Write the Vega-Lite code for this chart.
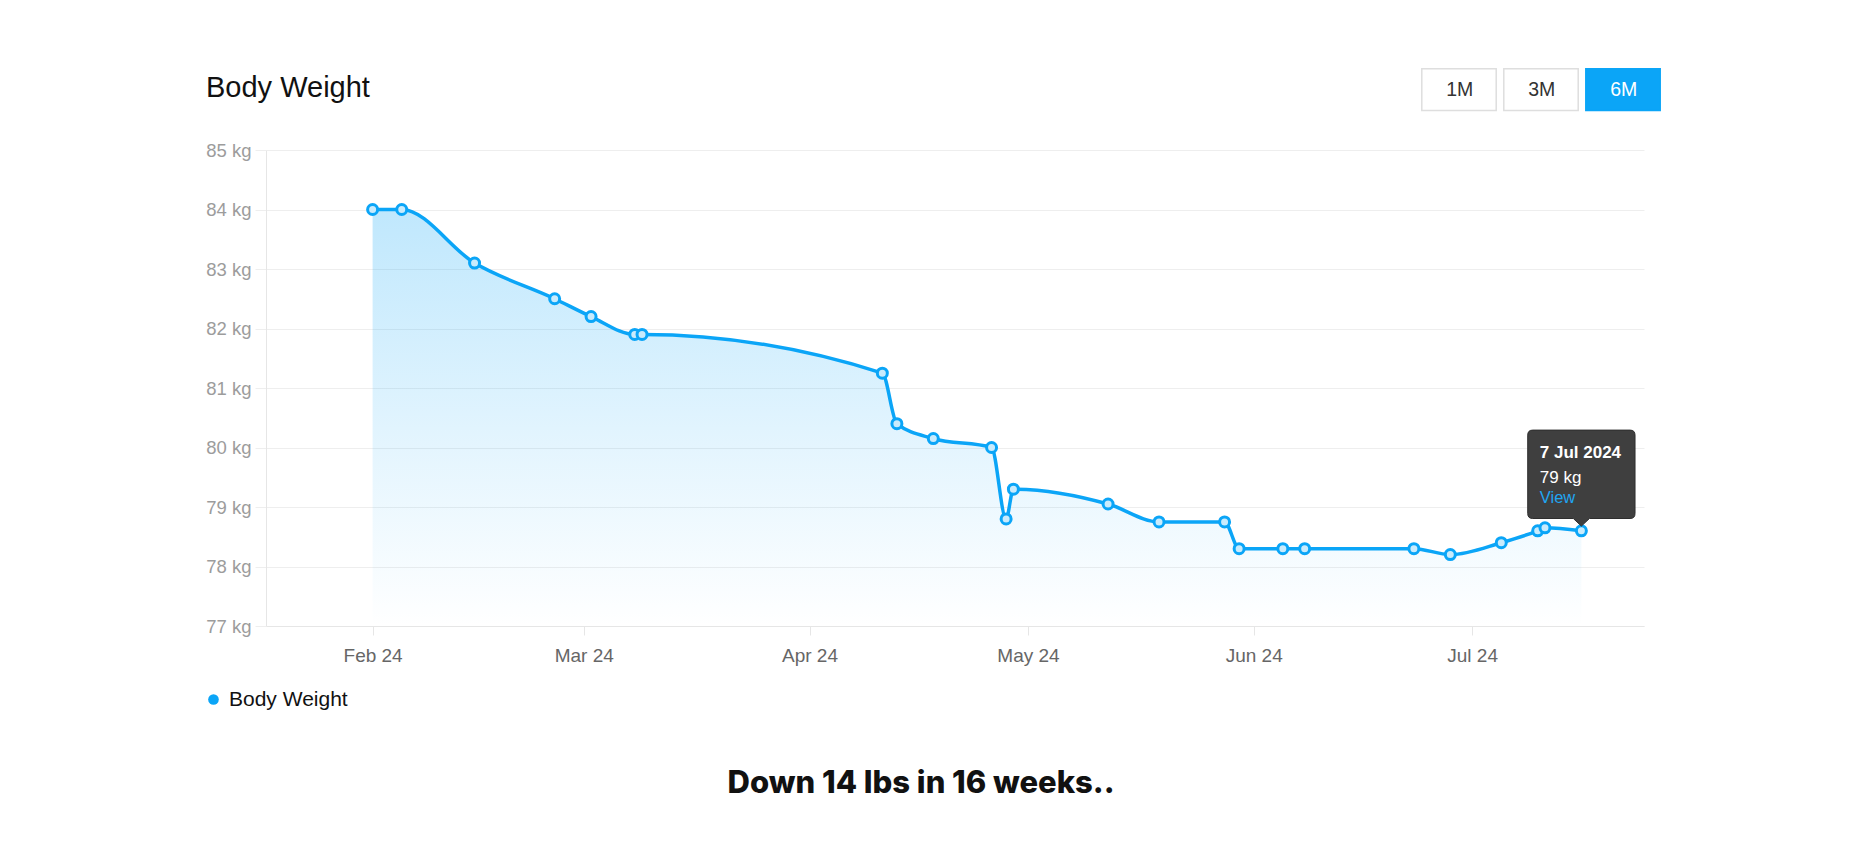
{
  "$schema": "https://vega.github.io/schema/vega-lite/v6.json",
  "width": 1378,
  "height": 476,
  "autosize": {"type": "none"},
  "padding": {"left": 266, "top": 150, "right": 211, "bottom": 222},
  "background": "#ffffff",
  "title": {
    "text": "Body Weight",
    "anchor": "start",
    "frame": "group",
    "dx": -60,
    "offset": -74,
    "baseline": "alphabetic",
    "font": "Liberation Sans",
    "fontSize": 29,
    "fontWeight": "normal",
    "color": "#111111"
  },
  "datasets": {
    "weights": [
      {"date": "2024-02-01", "weight": 84.0},
      {"date": "2024-02-05", "weight": 84.0},
      {"date": "2024-02-15", "weight": 83.1},
      {"date": "2024-02-26", "weight": 82.5},
      {"date": "2024-03-02", "weight": 82.2},
      {"date": "2024-03-08", "weight": 81.9},
      {"date": "2024-03-09", "weight": 81.9},
      {"date": "2024-04-11", "weight": 81.25},
      {"date": "2024-04-13", "weight": 80.4},
      {"date": "2024-04-18", "weight": 80.15},
      {"date": "2024-04-26", "weight": 80.0},
      {"date": "2024-04-28", "weight": 78.8},
      {"date": "2024-04-29", "weight": 79.3},
      {"date": "2024-05-12", "weight": 79.05},
      {"date": "2024-05-19", "weight": 78.75},
      {"date": "2024-05-28", "weight": 78.75},
      {"date": "2024-05-30", "weight": 78.3},
      {"date": "2024-06-05", "weight": 78.3},
      {"date": "2024-06-08", "weight": 78.3},
      {"date": "2024-06-23", "weight": 78.3},
      {"date": "2024-06-28", "weight": 78.2},
      {"date": "2024-07-05", "weight": 78.4},
      {"date": "2024-07-10", "weight": 78.6},
      {"date": "2024-07-11", "weight": 78.65},
      {"date": "2024-07-16", "weight": 78.6}
    ],
    "tip": [
      {"date": "2024-07-16", "weight": 78.6, "heading": "7 Jul 2024", "reading": "79 kg", "link": "View"}
    ],
    "ranges": [
      {"range": "1M"},
      {"range": "3M"},
      {"range": "6M"}
    ],
    "series": [
      {"series": "Body Weight"}
    ]
  },
  "layer": [
    {
      "data": {"name": "weights"},
      "mark": {
        "type": "area",
        "interpolate": "monotone",
        "color": {
          "gradient": "linear",
          "x1": 0, "y1": 0, "x2": 0, "y2": 1,
          "stops": [
            {"offset": 0, "color": "rgba(11,165,247,0.26)"},
            {"offset": 1, "color": "rgba(11,165,247,0.0)"}
          ]
        }
      },
      "encoding": {
        "x": {
          "field": "date",
          "type": "temporal",
          "scale": {
            "type": "utc",
            "domain": [
              {"year": 2024, "month": 1, "date": 17, "hours": 8, "minutes": 38, "utc": true},
              {"year": 2024, "month": 7, "date": 24, "hours": 14, "minutes": 24, "utc": true}
            ]
          },
          "axis": {
            "labelExpr": "utcFormat(datum.value, '%b %y')",
            "tickCount": {"interval": "month", "step": 1},
            "grid": false,
            "domain": true,
            "domainColor": "#e6e6e6",
            "domainWidth": 1,
            "ticks": true,
            "tickColor": "#e6e6e6",
            "tickSize": 9,
            "labelPadding": 11,
            "labelFont": "Liberation Sans",
            "labelFontSize": 19,
            "labelColor": "#666666",
            "labelFlush": false,
            "labelOverlap": false,
            "title": "Down 14 lbs in 16 weeks..",
            "titleFont": "Inter",
            "titleFontWeight": 800,
            "titleFontSize": 31,
            "titleColor": "#111111",
            "titleAlign": "center",
            "titleBaseline": "alphabetic",
            "titleX": 654.6,
            "titleY": 166.7
          }
        },
        "y": {
          "field": "weight",
          "type": "quantitative",
          "scale": {"domain": [77, 85], "nice": false, "zero": false},
          "axis": {
            "values": [77, 78, 79, 80, 81, 82, 83, 84, 85],
            "labelExpr": "datum.value + ' kg'",
            "grid": true,
            "gridColor": "#eeeeee",
            "gridWidth": 1,
            "domain": true,
            "domainColor": "#e6e6e6",
            "ticks": true,
            "tickColor": "#eeeeee",
            "tickSize": 11,
            "labelPadding": 4,
            "labelFont": "Liberation Sans",
            "labelFontSize": 18.5,
            "labelColor": "#9c9c9c",
            "title": null
          }
        },
        "y2": {"datum": 77}
      }
    },
    {
      "data": {"name": "weights"},
      "mark": {"type": "line", "interpolate": "monotone", "color": "#0ba5f7", "strokeWidth": 3.5},
      "encoding": {
        "x": {"field": "date", "type": "temporal"},
        "y": {"field": "weight", "type": "quantitative"}
      }
    },
    {
      "data": {"name": "weights"},
      "mark": {"type": "point", "filled": true, "fill": "#c9ebfc", "stroke": "#0ba5f7", "strokeWidth": 3, "size": 100, "opacity": 1},
      "encoding": {
        "x": {"field": "date", "type": "temporal"},
        "y": {"field": "weight", "type": "quantitative"}
      }
    },
    {
      "data": {"name": "tip"},
      "mark": {
        "type": "point",
        "filled": true,
        "fill": "#3f3f3f",
        "stroke": "#2e2e2e",
        "strokeWidth": 1,
        "opacity": 1,
        "size": 11513,
        "shape": "M-0.907,-1.877 L0.907,-1.877 Q1,-1.877 1,-1.784 L1,-0.322 Q1,-0.229 0.907,-0.229 L0.15,-0.229 L0,-0.088 L-0.15,-0.229 L-0.907,-0.229 Q-1,-0.229 -1,-0.322 L-1,-1.784 Q-1,-1.877 -0.907,-1.877 Z"
      },
      "encoding": {
        "x": {"field": "date", "type": "temporal"},
        "y": {"field": "weight", "type": "quantitative"}
      }
    },
    {
      "data": {"name": "tip"},
      "mark": {"type": "text", "align": "left", "baseline": "middle", "dx": -41.6, "dy": -78.3, "font": "Liberation Sans", "fontSize": 17, "fontWeight": "bold", "color": "#ffffff"},
      "encoding": {
        "x": {"field": "date", "type": "temporal"},
        "y": {"field": "weight", "type": "quantitative"},
        "text": {"field": "heading"}
      }
    },
    {
      "data": {"name": "tip"},
      "mark": {"type": "text", "align": "left", "baseline": "middle", "dx": -41.6, "dy": -52.7, "font": "Liberation Sans", "fontSize": 17, "color": "#ffffff"},
      "encoding": {
        "x": {"field": "date", "type": "temporal"},
        "y": {"field": "weight", "type": "quantitative"},
        "text": {"field": "reading"}
      }
    },
    {
      "data": {"name": "tip"},
      "mark": {"type": "text", "align": "left", "baseline": "middle", "dx": -41.6, "dy": -32.7, "font": "Liberation Sans", "fontSize": 16.5, "color": "#1fa6f2"},
      "encoding": {
        "x": {"field": "date", "type": "temporal"},
        "y": {"field": "weight", "type": "quantitative"},
        "text": {"field": "link"}
      }
    },
    {
      "data": {"name": "ranges"},
      "mark": {"type": "point", "filled": true, "size": 0},
      "encoding": {
        "fill": {
          "field": "range",
          "type": "nominal",
          "scale": {"domain": ["1M", "3M", "6M"], "range": ["#ffffff", "#ffffff", "#0ba5f7"]},
          "legend": {
            "title": null,
            "orient": "none",
            "direction": "horizontal",
            "legendX": 1155,
            "legendY": -98.5,
            "padding": 0,
            "offset": 0,
            "columnPadding": 0,
            "rowPadding": 0,
            "symbolType": "M-1,-0.5605 L1,-0.5605 L1,0.5605 L-1,0.5605 Z",
            "symbolSize": 5535,
            "symbolOpacity": 1,
            "symbolStrokeWidth": 1.5,
            "symbolStrokeColor": {"expr": "datum.value === '6M' ? '#0ba5f7' : '#dedede'"},
            "labelOffset": -37.2,
            "labelAlign": "center",
            "labelFont": "Liberation Sans",
            "labelFontSize": 19.5,
            "labelColor": {"expr": "datum.value === '6M' ? '#ffffff' : '#333333'"}
          }
        }
      }
    },
    {
      "data": {"name": "series"},
      "mark": {"type": "point", "filled": true, "size": 0},
      "encoding": {
        "color": {
          "field": "series",
          "type": "nominal",
          "scale": {"domain": ["Body Weight"], "range": ["#0ba5f7"]},
          "legend": {
            "title": null,
            "orient": "none",
            "legendX": -63,
            "legendY": 539,
            "padding": 0,
            "offset": 0,
            "symbolType": "circle",
            "symbolSize": 113,
            "symbolOpacity": 1,
            "symbolStrokeWidth": 0,
            "labelOffset": 5,
            "labelFont": "Liberation Sans",
            "labelFontSize": 21,
            "labelColor": "#111111"
          }
        }
      }
    }
  ],
  "config": {
    "view": {"stroke": null},
    "font": "Liberation Sans"
  }
}
